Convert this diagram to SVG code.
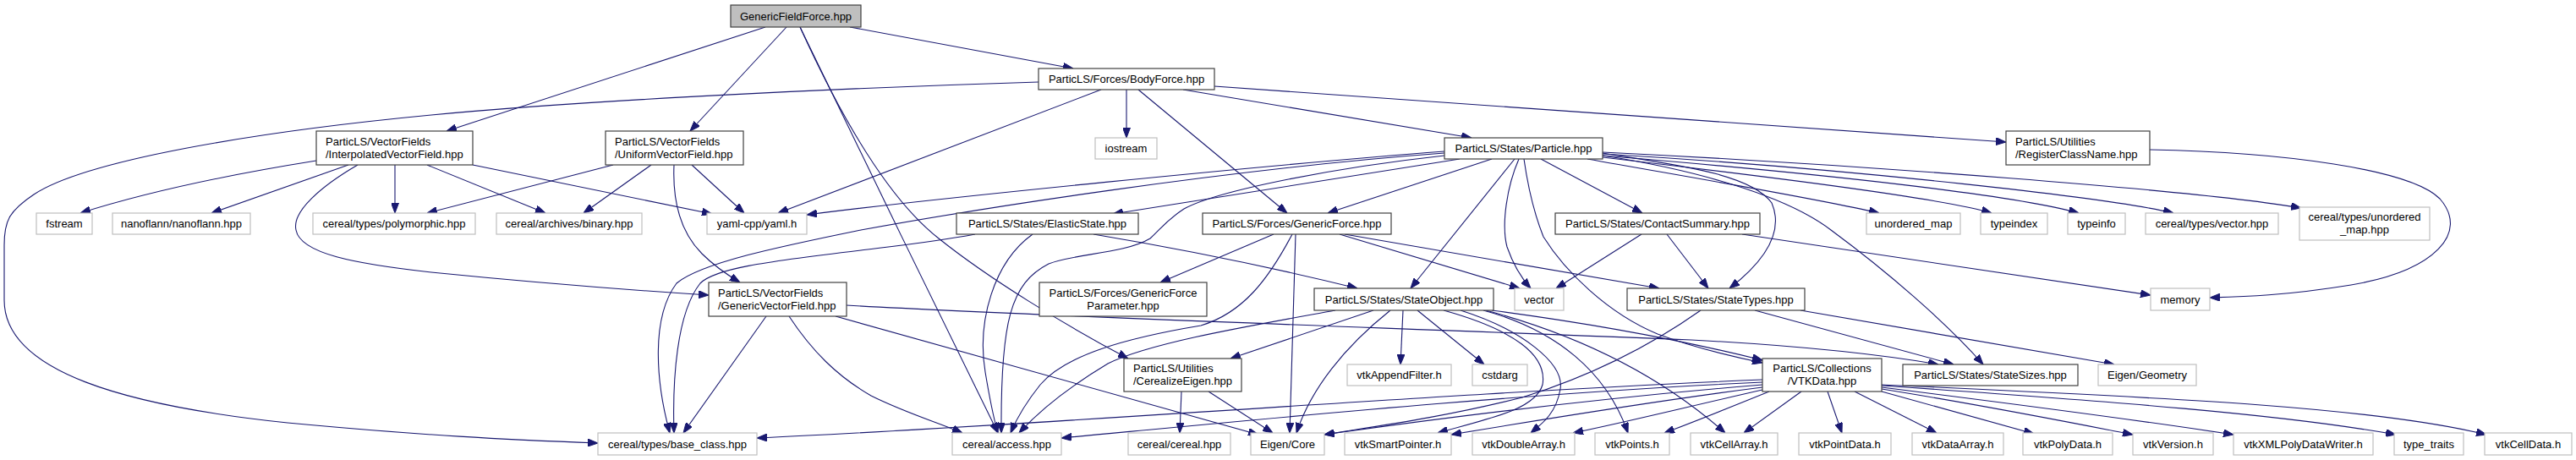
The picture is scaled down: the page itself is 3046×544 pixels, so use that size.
<svg xmlns="http://www.w3.org/2000/svg" width="3046" height="544" viewBox="0 0 3046 544">
<style>
text{font-family:"Liberation Sans",Arial,sans-serif;font-size:13px;fill:#000}
.c{text-anchor:middle}
.n rect{fill:#fff;stroke:#404040;stroke-width:1.2}
.r rect{fill:#bfbfbf;stroke:#404040;stroke-width:1.2}
.x rect{fill:#fff;stroke:#bfbfbf;stroke-width:1.2}
#edges path{fill:none;stroke:#191970;stroke-width:1.1;marker-end:url(#a)}
</style>
<defs>
<marker id="a" markerWidth="12" markerHeight="9" refX="12" refY="4.5" orient="auto" markerUnits="userSpaceOnUse"><path d="M0,0 L12,4.5 L0,9 z" fill="#191970" stroke="#191970" stroke-width="1"/></marker>
</defs>
<rect width="3046" height="544" fill="#fff"/>
<g id="edges">
<path d="M905,32 L528,155"/>
<path d="M930,32 L816,155"/>
<path d="M1005,32 L1269,81"/>
<path d="M946,32 C1000,145 1120,390 1180,512"/>
<path d="M946,32 C995,140 1050,235 1110,282 C1170,330 1260,385 1334,424"/>
<path d="M1332,106 L1332,163"/>
<path d="M1302,106 L920,252"/>
<path d="M1346,106 L1522,252"/>
<path d="M1399,106 L1740,163"/>
<path d="M1436,102 L2372,168"/>
<path d="M1228,97 C1000,104 700,118 510,136 C300,156 100,190 40,230 C10,250 5,262 5,290 L5,355 C5,440 150,480 340,500 C500,515 600,520 707,524"/>
<path d="M374,190 C280,205 180,225 95,252"/>
<path d="M412,195 L250,252"/>
<path d="M467,195 L467,252"/>
<path d="M505,195 L645,252"/>
<path d="M559,195 L842,253"/>
<path d="M423,195 C380,220 345,250 350,272 C355,300 420,312 510,322 C650,336 760,344 838,349"/>
<path d="M725,195 L505,252"/>
<path d="M770,195 L690,252"/>
<path d="M818,195 L880,252"/>
<path d="M797,195 C795,240 805,275 830,300 C845,315 860,325 875,334"/>
<path d="M1708,179 C1500,195 1100,235 954,254"/>
<path d="M1708,181 C1450,200 1150,248 1018,272 C930,290 830,310 800,335 C770,375 775,450 792,512"/>
<path d="M1153,277 C1100,287 1040,293 1018,296 C900,310 845,318 828,335 C800,370 795,450 797,512"/>
<path d="M1708,184 C1580,198 1440,225 1400,247 C1380,260 1375,268 1360,282 C1330,300 1270,300 1240,312 C1195,335 1183,380 1184,512"/>
<path d="M1726,188 L1316,253"/>
<path d="M1764,188 L1570,252"/>
<path d="M1791,188 L1668,341"/>
<path d="M1796,188 C1782,220 1775,265 1782,292 C1790,315 1800,330 1810,341"/>
<path d="M1802,188 C1808,230 1815,255 1825,280 C1850,320 1900,370 1960,395 C2000,410 2050,422 2084,429"/>
<path d="M1822,188 L1942,252"/>
<path d="M1895,181 C1980,195 2070,205 2095,240 C2110,275 2085,310 2045,341"/>
<path d="M1895,184 C2000,200 2110,230 2165,272 C2230,320 2300,380 2345,431"/>
<path d="M1877,188 C2000,210 2150,235 2222,252"/>
<path d="M1895,186 C2100,210 2300,235 2355,252"/>
<path d="M1895,184 C2150,205 2380,230 2458,252"/>
<path d="M1895,182 C2200,200 2500,235 2570,252"/>
<path d="M1895,180 C2200,195 2600,225 2721,246"/>
<path d="M1221,277 C1175,310 1155,380 1165,440 C1170,470 1175,495 1180,512"/>
<path d="M1293,277 C1400,295 1520,320 1605,341"/>
<path d="M1506,277 L1372,334"/>
<path d="M1528,277 C1500,330 1470,370 1420,385 C1330,400 1260,420 1230,455 C1210,480 1200,500 1195,512"/>
<path d="M1532,277 L1525,512"/>
<path d="M1584,277 L1797,341"/>
<path d="M1590,277 L1962,341"/>
<path d="M1579,367 C1480,385 1360,405 1310,430 C1260,460 1225,490 1205,512"/>
<path d="M1624,367 L1455,424"/>
<path d="M1644,367 C1590,410 1550,460 1533,512"/>
<path d="M1659,367 L1656,431"/>
<path d="M1676,367 L1755,431"/>
<path d="M1707,367 C1790,390 1830,420 1824,455 C1815,485 1760,495 1700,512"/>
<path d="M1727,367 C1800,390 1850,430 1845,460 C1840,490 1822,502 1810,512"/>
<path d="M1754,367 C1840,390 1900,440 1925,512"/>
<path d="M1757,367 C1880,400 1970,450 2040,512"/>
<path d="M1764,367 C1900,385 2000,405 2084,426"/>
<path d="M2011,367 C1950,410 1880,445 1800,470 C1700,495 1620,505 1566,514"/>
<path d="M2075,367 L2310,431"/>
<path d="M2129,367 L2500,431"/>
<path d="M1941,277 L1840,341"/>
<path d="M1971,277 L2020,341"/>
<path d="M2060,277 L2543,349"/>
<path d="M2542,177 C2700,180 2850,200 2885,235 C2920,275 2880,320 2780,337 C2700,350 2650,351 2613,352"/>
<path d="M1001,361 C1250,375 1600,386 2000,402 C2150,410 2240,422 2292,431"/>
<path d="M988,374 L1488,514"/>
<path d="M906,374 L808,512"/>
<path d="M933,374 C960,415 990,445 1030,468 C1070,488 1110,500 1138,512"/>
<path d="M1397,463 L1395,512"/>
<path d="M1429,463 L1505,512"/>
<path d="M2084,449 C1700,465 1200,505 895,518"/>
<path d="M2084,452 C1800,465 1500,495 1255,518"/>
<path d="M2084,455 C1900,470 1700,495 1566,514"/>
<path d="M2084,458 C1950,475 1800,500 1716,514"/>
<path d="M2084,461 C2000,480 1920,500 1860,512"/>
<path d="M2092,463 C2050,480 2000,500 1968,512"/>
<path d="M2130,463 L2062,512"/>
<path d="M2161,463 L2178,512"/>
<path d="M2193,463 L2290,512"/>
<path d="M2225,463 L2405,513"/>
<path d="M2225,460 C2350,480 2450,500 2522,514"/>
<path d="M2225,458 C2400,480 2550,500 2641,514"/>
<path d="M2225,456 C2500,475 2700,490 2833,514"/>
<path d="M2225,455 C2550,470 2800,480 2940,514"/>
</g>
<g id="gff" class="r"><rect x="864" y="6" width="154" height="26"/><text class="c" x="941" y="23.5">GenericFieldForce.hpp</text></g>
<g id="body" class="n"><rect x="1228" y="81" width="208" height="25"/><text class="c" x="1332" y="98">ParticLS/Forces/BodyForce.hpp</text></g>
<g id="iostream" class="x"><rect x="1295" y="163" width="73" height="25"/><text class="c" x="1331.5" y="180">iostream</text></g>
<g id="interp" class="n"><rect x="374" y="155" width="185" height="40"/><text x="385" y="171.5">ParticLS/VectorFields</text><text x="385" y="186.5">/InterpolatedVectorField.hpp</text></g>
<g id="uniform" class="n"><rect x="716" y="155" width="163" height="40"/><text x="727" y="171.5">ParticLS/VectorFields</text><text x="727" y="186.5">/UniformVectorField.hpp</text></g>
<g id="particle" class="n"><rect x="1708" y="163" width="187" height="25"/><text class="c" x="1801.5" y="180">ParticLS/States/Particle.hpp</text></g>
<g id="register" class="n"><rect x="2372" y="155" width="170" height="40"/><text x="2383" y="171.5">ParticLS/Utilities</text><text x="2383" y="186.5">/RegisterClassName.hpp</text></g>
<g id="fstream" class="x"><rect x="43" y="252" width="66" height="25"/><text class="c" x="76" y="269">fstream</text></g>
<g id="nanoflann" class="x"><rect x="133" y="252" width="163" height="25"/><text class="c" x="214.5" y="269">nanoflann/nanoflann.hpp</text></g>
<g id="polymorphic" class="x"><rect x="370" y="252" width="192" height="25"/><text class="c" x="466" y="269">cereal/types/polymorphic.hpp</text></g>
<g id="binary" class="x"><rect x="587" y="252" width="172" height="25"/><text class="c" x="673" y="269">cereal/archives/binary.hpp</text></g>
<g id="yaml" class="x"><rect x="836" y="252" width="118" height="25"/><text class="c" x="895" y="269">yaml-cpp/yaml.h</text></g>
<g id="elastic" class="n"><rect x="1131" y="252" width="215" height="25"/><text class="c" x="1238.5" y="269">ParticLS/States/ElasticState.hpp</text></g>
<g id="genforce" class="n"><rect x="1422" y="252" width="223" height="25"/><text class="c" x="1533.5" y="269">ParticLS/Forces/GenericForce.hpp</text></g>
<g id="contact" class="n"><rect x="1839" y="252" width="242" height="25"/><text class="c" x="1960" y="269">ParticLS/States/ContactSummary.hpp</text></g>
<g id="umap" class="x"><rect x="2207" y="252" width="111" height="25"/><text class="c" x="2262.5" y="269">unordered_map</text></g>
<g id="typeindex" class="x"><rect x="2342" y="252" width="79" height="25"/><text class="c" x="2381.5" y="269">typeindex</text></g>
<g id="typeinfo" class="x"><rect x="2445" y="252" width="68" height="25"/><text class="c" x="2479" y="269">typeinfo</text></g>
<g id="vechpp" class="x"><rect x="2537" y="252" width="157" height="25"/><text class="c" x="2615.5" y="269">cereal/types/vector.hpp</text></g>
<g id="umaphpp" class="x"><rect x="2719" y="245" width="154" height="39"/><text class="c" x="2796" y="261">cereal/types/unordered</text><text class="c" x="2796" y="276">_map.hpp</text></g>
<g id="gvf" class="n"><rect x="838" y="334" width="163" height="40"/><text x="849" y="350.5">ParticLS/VectorFields</text><text x="849" y="365.5">/GenericVectorField.hpp</text></g>
<g id="gfp" class="n"><rect x="1229" y="334" width="198" height="40"/><text class="c" x="1328" y="350.5">ParticLS/Forces/GenericForce</text><text class="c" x="1328" y="365.5">Parameter.hpp</text></g>
<g id="stateobj" class="n"><rect x="1554" y="341" width="212" height="26"/><text class="c" x="1660" y="358.5">ParticLS/States/StateObject.hpp</text></g>
<g id="vector" class="x"><rect x="1791" y="341" width="58" height="26"/><text class="c" x="1820" y="358.5">vector</text></g>
<g id="statetypes" class="n"><rect x="1924" y="341" width="210" height="26"/><text class="c" x="2029" y="358.5">ParticLS/States/StateTypes.hpp</text></g>
<g id="memory" class="x"><rect x="2543" y="341" width="70" height="26"/><text class="c" x="2578" y="358.5">memory</text></g>
<g id="appendfilter" class="x"><rect x="1593" y="431" width="123" height="25"/><text class="c" x="1654.5" y="448">vtkAppendFilter.h</text></g>
<g id="cstdarg" class="x"><rect x="1741" y="431" width="65" height="25"/><text class="c" x="1773.5" y="448">cstdarg</text></g>
<g id="cerealeigen" class="n"><rect x="1329" y="424" width="139" height="39"/><text x="1340" y="440">ParticLS/Utilities</text><text x="1340" y="455">/CerealizeEigen.hpp</text></g>
<g id="vtkdata" class="n"><rect x="2084" y="424" width="141" height="39"/><text class="c" x="2154.5" y="440">ParticLS/Collections</text><text class="c" x="2154.5" y="455">/VTKData.hpp</text></g>
<g id="statesizes" class="n"><rect x="2250" y="431" width="207" height="25"/><text class="c" x="2353.5" y="448">ParticLS/States/StateSizes.hpp</text></g>
<g id="eigengeo" class="x"><rect x="2481" y="431" width="116" height="25"/><text class="c" x="2539" y="448">Eigen/Geometry</text></g>
<g id="baseclass" class="x"><rect x="707" y="512" width="188" height="26"/><text class="c" x="801" y="529.5">cereal/types/base_class.hpp</text></g>
<g id="access" class="x"><rect x="1126" y="512" width="129" height="26"/><text class="c" x="1190.5" y="529.5">cereal/access.hpp</text></g>
<g id="cereal" class="x"><rect x="1334" y="512" width="121" height="26"/><text class="c" x="1394.5" y="529.5">cereal/cereal.hpp</text></g>
<g id="eigencore" class="x"><rect x="1479" y="512" width="87" height="26"/><text class="c" x="1522.5" y="529.5">Eigen/Core</text></g>
<g id="smartptr" class="x"><rect x="1590" y="512" width="126" height="26"/><text class="c" x="1653" y="529.5">vtkSmartPointer.h</text></g>
<g id="doublearr" class="x"><rect x="1741" y="512" width="121" height="26"/><text class="c" x="1801.5" y="529.5">vtkDoubleArray.h</text></g>
<g id="points" class="x"><rect x="1886" y="512" width="88" height="26"/><text class="c" x="1930" y="529.5">vtkPoints.h</text></g>
<g id="cellarray" class="x"><rect x="1999" y="512" width="103" height="26"/><text class="c" x="2050.5" y="529.5">vtkCellArray.h</text></g>
<g id="pointdata" class="x"><rect x="2127" y="512" width="109" height="26"/><text class="c" x="2181.5" y="529.5">vtkPointData.h</text></g>
<g id="dataarray" class="x"><rect x="2261" y="512" width="108" height="26"/><text class="c" x="2315" y="529.5">vtkDataArray.h</text></g>
<g id="polydata" class="x"><rect x="2392" y="512" width="106" height="26"/><text class="c" x="2445" y="529.5">vtkPolyData.h</text></g>
<g id="version" class="x"><rect x="2522" y="512" width="95" height="26"/><text class="c" x="2569.5" y="529.5">vtkVersion.h</text></g>
<g id="xmlwriter" class="x"><rect x="2641" y="512" width="165" height="26"/><text class="c" x="2723.5" y="529.5">vtkXMLPolyDataWriter.h</text></g>
<g id="typetraits" class="x"><rect x="2831" y="512" width="82" height="26"/><text class="c" x="2872" y="529.5">type_traits</text></g>
<g id="celldata" class="x"><rect x="2938" y="512" width="103" height="26"/><text class="c" x="2989.5" y="529.5">vtkCellData.h</text></g>
</svg>
